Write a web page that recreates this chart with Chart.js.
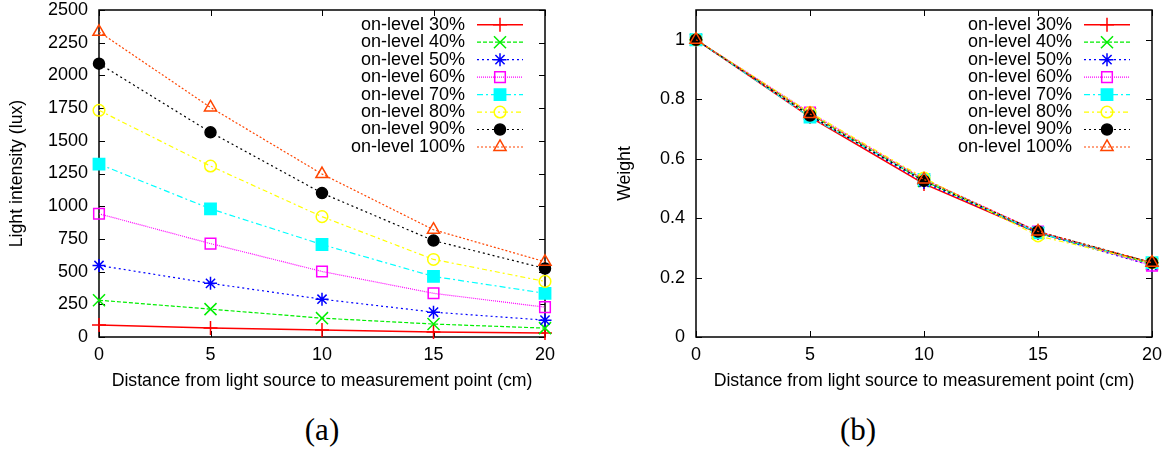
<!DOCTYPE html>
<html lang="en">
<head>
<meta charset="UTF-8" />
<title>light intensity vs distance</title>
<script src="https://cdn.jsdelivr.net/npm/chart.js"></script>
<style>
  body { margin: 0; background: #fff; }
  #wrap { position: relative; width: 1174px; height: 450px; overflow: hidden; }
  canvas { position: absolute; top: 0; }
  #c1 { left: 0; }
  #c2 { left: 580px; }
  .cap { position: absolute; top: 413px; line-height: 34px; font-size: 31px;
         font-family: "Liberation Serif", "Times New Roman", serif; transform: translateX(-50%); }
</style>
</head>
<body>
<div id="wrap">
  <canvas id="c1" width="580" height="400"></canvas>
  <canvas id="c2" width="594" height="400"></canvas>
  <div class="cap" style="left:322px">(a)</div>
  <div class="cap" style="left:858px">(b)</div>
</div>
<script>
// data
const distance = [0, 5, 10, 15, 20];
const levels = ["on-level 30%", "on-level 40%", "on-level 50%", "on-level 60%",
                "on-level 70%", "on-level 80%", "on-level 90%", "on-level 100%"];

// (a) light intensity (lux)
const lux30 = [91, 68, 53, 38, 30];
const lux40 = [281, 213, 144, 99, 68];
const lux50 = [547, 410, 289, 190, 129];
const lux60 = [942, 714, 501, 334, 228];
const lux70 = [1322, 980, 707, 463, 334];
const lux80 = [1733, 1307, 920, 593, 425];
const lux90 = [2090, 1565, 1100, 737, 524];
const lux100 = [2333, 1755, 1246, 820, 575];
const luxTicks = [0, 250, 500, 750, 1000, 1250, 1500, 1750, 2000, 2250, 2500];

// (b) weight
const w30 = [1, 0.74, 0.515, 0.35, 0.25];
const w40 = [1, 0.75, 0.525, 0.35, 0.245];
const w50 = [1, 0.745, 0.52, 0.35, 0.24];
const w60 = [1, 0.755, 0.53, 0.355, 0.24];
const w70 = [1, 0.74, 0.53, 0.35, 0.25];
const w80 = [1, 0.755, 0.535, 0.34, 0.25];
const w90 = [1, 0.745, 0.525, 0.355, 0.25];
const w100 = [1, 0.75, 0.53, 0.355, 0.25];
const weightTicks = [0, 0.2, 0.4, 0.6, 0.8, 1];

// styles (gnuplot-like)
const colors = ["#ff0000", "#00ee00", "#0000ff", "#ff00ff", "#00ffff", "#ffff00", "#000000", "#ff4500"];
const dashes = [[], [4, 2], [2, 3], [1, 1], [6, 3, 2, 3], [5, 3, 2, 3], [2, 3], [2, 2]];
const markers = ["cross", "crossRot", "star", "rect", "rect", "circle", "circle", "triangle"];
const filled = [false, false, false, false, true, false, true, false];
const sizes = [7, 8.5, 6.5, 7.5, 8, 5.8, 5.5, 7];

const sans = '"Liberation Sans", Arial, sans-serif';
const tickFont = { family: sans, size: 18 };
const titleFont = { family: sans, size: 17.7 };

function drawMarker(ctx, i, x, y) {
  ctx.setLineDash([]);
  ctx.lineWidth = 1.5;
  ctx.strokeStyle = colors[i];
  ctx.fillStyle = filled[i] ? colors[i] : "rgba(0,0,0,0)";
  Chart.helpers.drawPoint(ctx, { pointStyle: markers[i], radius: sizes[i], rotation: 0, borderWidth: 1.5 }, x, y);
}

const framePlugin = {
  id: "frame",
  beforeDatasetsDraw(chart) {
    const { ctx, chartArea: a, scales: { x, y } } = chart;
    ctx.save();
    ctx.strokeStyle = "#000";
    ctx.lineWidth = 1.5;
    ctx.strokeRect(a.left, a.top, a.right - a.left, a.bottom - a.top);
    ctx.lineWidth = 1;
    ctx.beginPath();
    x.ticks.forEach(t => {
      const px = Math.round(x.getPixelForValue(t.value)) + 0.5;
      ctx.moveTo(px, a.bottom); ctx.lineTo(px, a.bottom - 6);
      ctx.moveTo(px, a.top); ctx.lineTo(px, a.top + 6);
    });
    y.ticks.forEach(t => {
      const py = Math.round(y.getPixelForValue(t.value)) + 0.5;
      ctx.moveTo(a.left, py); ctx.lineTo(a.left + 6, py);
      ctx.moveTo(a.right, py); ctx.lineTo(a.right - 6, py);
    });
    ctx.stroke();
    ctx.restore();
  },
  afterDatasetsDraw(chart) {
    const { ctx, chartArea: a } = chart;
    ctx.save();
    chart.data.datasets.forEach((ds, i) => {
      const y = a.top + 14.7 + i * 17.47;
      ctx.font = "18px " + sans;
      ctx.fillStyle = "#000";
      ctx.textAlign = "right";
      ctx.textBaseline = "middle";
      ctx.fillText(ds.label, a.right - 80, y);
      ctx.strokeStyle = ds.borderColor;
      ctx.lineWidth = ds.borderWidth;
      ctx.setLineDash(ds.borderDash);
      ctx.beginPath();
      ctx.moveTo(a.right - 68, y);
      ctx.lineTo(a.right - 22, y);
      ctx.stroke();
      drawMarker(ctx, i, a.right - 45, y);
    });
    ctx.restore();
  }
};

function makeChart(id, series, yMax, yTicks, yTitle, yWidth, yTitlePad, rightPad) {
  const datasets = series.map((vals, i) => ({
    label: levels[i],
    data: distance.map((d, k) => ({ x: d, y: vals[k] })),
    borderColor: colors[i],
    backgroundColor: filled[i] ? colors[i] : "rgba(0,0,0,0)",
    borderWidth: i == 0 ? 1.5 : 1.2,
    borderDash: dashes[i],
    pointStyle: markers[i],
    pointRadius: sizes[i],
    pointBorderWidth: 1.5,
    pointBorderColor: colors[i],
    pointBackgroundColor: filled[i] ? colors[i] : "rgba(0,0,0,0)",
    tension: 0,
    clip: false,
    order: 7 - i
  }));
  return new Chart(document.getElementById(id), {
    type: "line",
    data: { datasets },
    options: {
      responsive: false,
      animation: false,
      events: [],
      layout: { padding: { top: 8, right: rightPad, left: 0, bottom: 0 } },
      plugins: { legend: { display: false }, tooltip: { enabled: false } },
      scales: {
        x: {
          type: "linear", min: 0, max: 20,
          ticks: { stepSize: 5, padding: 7, color: "#000", font: tickFont, callback: v => v },
          grid: { display: false, drawTicks: false },
          border: { display: false },
          title: { display: true, text: "Distance from light source to measurement point (cm)",
                   color: "#000", font: titleFont, padding: { top: 0, bottom: 8 } },
          afterFit: s => { s.height = 63; s.paddingLeft = 0; s.paddingRight = 0; }
        },
        y: {
          type: "linear", min: 0, max: yMax,
          afterBuildTicks: s => { s.ticks = yTicks.map(v => ({ value: v })); },
          ticks: { padding: 11, color: "#000", font: tickFont, callback: v => v },
          grid: { display: false, drawTicks: false },
          border: { display: false },
          title: { display: true, text: yTitle, color: "#000", font: titleFont,
                   padding: { top: yTitlePad, bottom: 0 } },
          afterFit: s => { s.width = yWidth; s.paddingTop = 0; s.paddingBottom = 0; }
        }
      }
    },
    plugins: [framePlugin]
  });
}

makeChart("c1", [lux30, lux40, lux50, lux60, lux70, lux80, lux90, lux100],
          2500, luxTicks, "Light intensity (lux)", 99, 6.5, 35);
makeChart("c2", [w30, w40, w50, w60, w70, w80, w90, w100],
          1.1, weightTicks, "Weight", 116, 34.5, 22);
</script>
</body>
</html>
